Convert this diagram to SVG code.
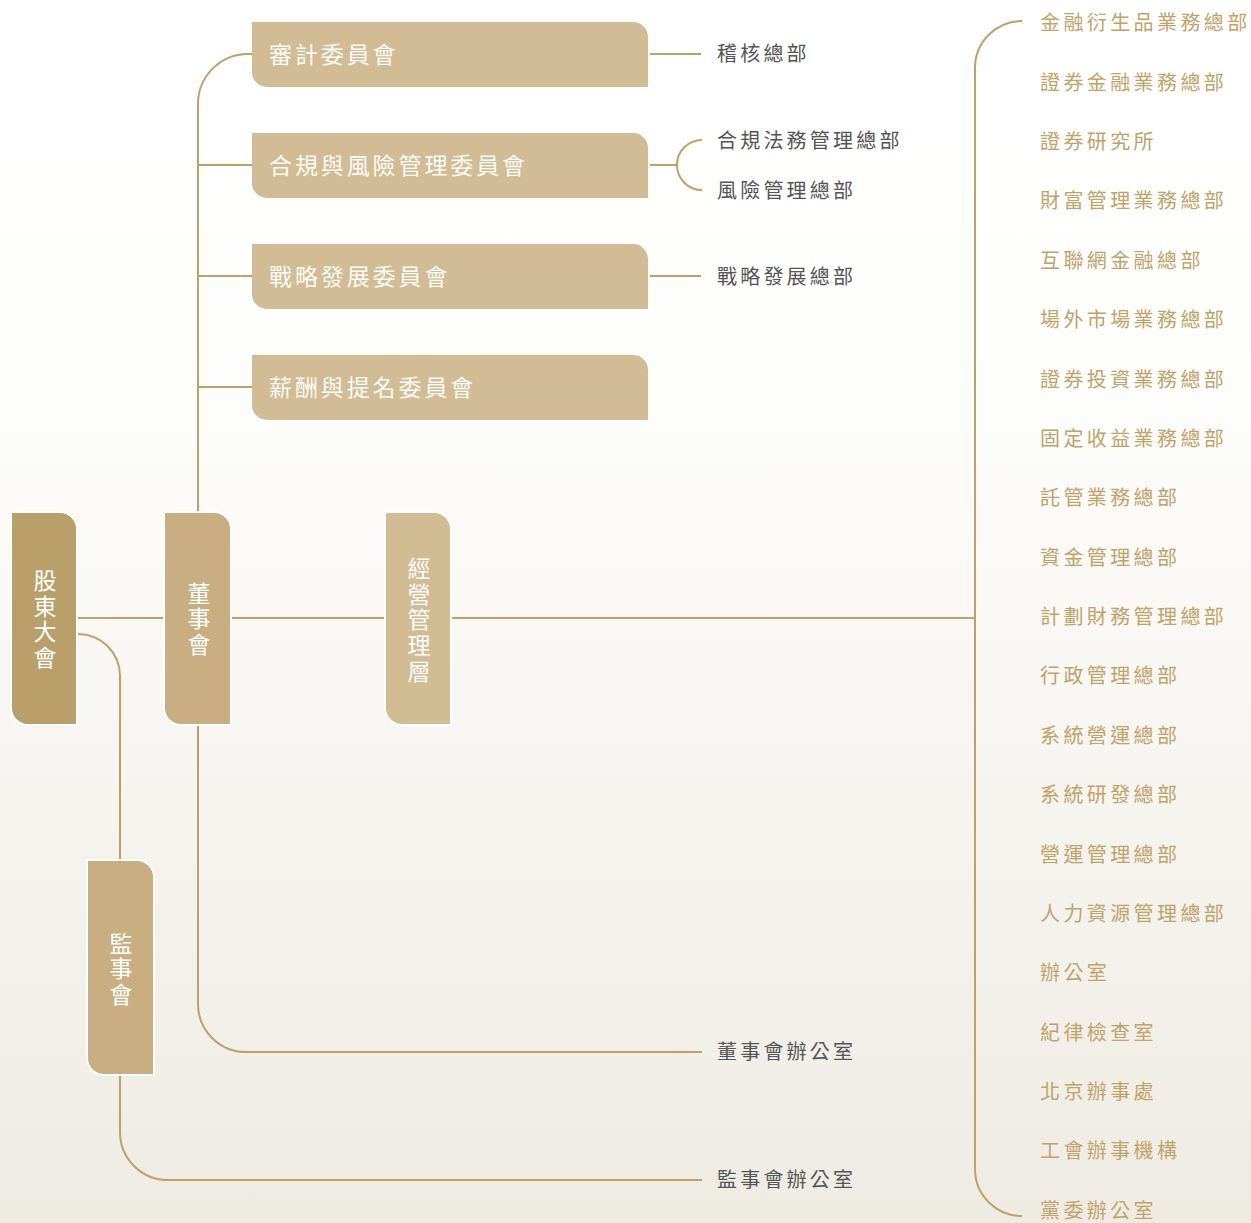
<svg xmlns="http://www.w3.org/2000/svg" width="1251" height="1223" viewBox="0 0 1251 1223">
<defs>
<linearGradient id="bg" x1="0" y1="0" x2="0" y2="1">
<stop offset="0" stop-color="#ffffff"/>
<stop offset="0.28" stop-color="#fefefd"/>
<stop offset="1" stop-color="#eeebe3"/>
</linearGradient>
<style>
.ln{fill:none;stroke:#bfa068;stroke-width:2}
.nd{stroke:#ffffff;stroke-width:2}
.vt{font-family:"Noto Sans CJK TC","Noto Sans CJK SC",sans-serif;font-size:23px;fill:#ffffff;text-anchor:middle;writing-mode:vertical-rl;letter-spacing:2.6px}
.ct{font-family:"Noto Sans CJK TC","Noto Sans CJK SC",sans-serif;font-size:23px;fill:#fdfbf6;letter-spacing:2.9px;dominant-baseline:central}
.gt{font-family:"Noto Sans CJK TC","Noto Sans CJK SC",sans-serif;font-size:20px;fill:#555555;letter-spacing:3.2px;dominant-baseline:central}
.rt{font-family:"Noto Sans CJK TC","Noto Sans CJK SC",sans-serif;font-size:20px;fill:#c1a36a;letter-spacing:3.4px;dominant-baseline:central}
</style>
</defs>
<rect x="0" y="0" width="1251" height="1223" fill="url(#bg)"/>

<g id="connectors">
<path class="ln" d="M77 618 H164"/>
<path class="ln" d="M231 618 H385"/>
<path class="ln" d="M451 618 H975"/>
<path class="ln" d="M198 512 V104 A50 50 0 0 1 248 54 H252"/>
<path class="ln" d="M198 165 H252"/>
<path class="ln" d="M198 276 H252"/>
<path class="ln" d="M198 387 H252"/>
<path class="ln" d="M650 54 H701"/>
<path class="ln" d="M650 276 H701"/>
<path class="ln" d="M650 165 H677"/>
<path class="ln" d="M702 140 A25 25 0 0 0 702 190"/>
<path class="ln" d="M198 725 V1004 A48 48 0 0 0 246 1052 H702"/>
<path class="ln" d="M78 634 A42 42 0 0 1 120 676 V860"/>
<path class="ln" d="M120 1075 V1132 A48 48 0 0 0 168 1180 H702"/>
<path class="ln" d="M1022 21 A47 47 0 0 0 975 68 V1169 A47 47 0 0 0 1022 1216"/>
</g>

<g id="n-gudong">
<path class="nd" fill="#b99f69" d="M11 512 H60 A17 17 0 0 1 77 529 V725 H28 A17 17 0 0 1 11 708 Z"/>
<text class="vt" x="45" y="620">股東大會</text>
</g>
<g id="n-dongshi">
<path class="nd" fill="#c8ae80" d="M164 512 H214 A17 17 0 0 1 231 529 V725 H181 A17 17 0 0 1 164 708 Z"/>
<text class="vt" x="199" y="620">董事會</text>
</g>
<g id="n-jingying">
<path class="nd" fill="#d1bc94" d="M385 512 H434 A17 17 0 0 1 451 529 V725 H402 A17 17 0 0 1 385 708 Z"/>
<text class="vt" x="419" y="621">經營管理層</text>
</g>
<g id="n-jianshi">
<path class="nd" fill="#c8ae80" d="M87 860 H137 A17 17 0 0 1 154 877 V1075 H104 A17 17 0 0 1 87 1058 Z"/>
<text class="vt" x="121" y="970">監事會</text>
</g>

<g id="n-shenji">
<path fill="#d1bc95" d="M252 22 H633 A15 15 0 0 1 648 37 V87 H267 A15 15 0 0 1 252 72 Z"/>
<text class="ct" x="269" y="52.5">審計委員會</text>
</g>
<g id="n-hegui">
<path fill="#d1bc95" d="M252 133 H633 A15 15 0 0 1 648 148 V198 H267 A15 15 0 0 1 252 183 Z"/>
<text class="ct" x="269" y="163.5">合規與風險管理委員會</text>
</g>
<g id="n-zhanlue">
<path fill="#d1bc95" d="M252 244 H633 A15 15 0 0 1 648 259 V309 H267 A15 15 0 0 1 252 294 Z"/>
<text class="ct" x="269" y="274.5">戰略發展委員會</text>
</g>
<g id="n-xinchou">
<path fill="#d1bc95" d="M252 355 H633 A15 15 0 0 1 648 370 V420 H267 A15 15 0 0 1 252 405 Z"/>
<text class="ct" x="269" y="385.5">薪酬與提名委員會</text>
</g>

<g id="n-gray">
<text class="gt" x="717" y="52">稽核總部</text>
<text class="gt" x="717" y="139">合規法務管理總部</text>
<text class="gt" x="717" y="189">風險管理總部</text>
<text class="gt" x="717" y="275">戰略發展總部</text>
<text class="gt" x="717" y="1050">董事會辦公室</text>
<text class="gt" x="717" y="1178">監事會辦公室</text>
</g>

<g id="n-depts">
<text class="rt" x="1040" y="21.5">金融衍生品業務總部</text>
<text class="rt" x="1040" y="81.5">證券金融業務總部</text>
<text class="rt" x="1040" y="140.5">證券研究所</text>
<text class="rt" x="1040" y="199.5">財富管理業務總部</text>
<text class="rt" x="1040" y="259.5">互聯網金融總部</text>
<text class="rt" x="1040" y="318.5">場外市場業務總部</text>
<text class="rt" x="1040" y="378.5">證券投資業務總部</text>
<text class="rt" x="1040" y="437.5">固定收益業務總部</text>
<text class="rt" x="1040" y="496.5">託管業務總部</text>
<text class="rt" x="1040" y="556.5">資金管理總部</text>
<text class="rt" x="1040" y="615.5">計劃財務管理總部</text>
<text class="rt" x="1040" y="674.5">行政管理總部</text>
<text class="rt" x="1040" y="734.5">系統營運總部</text>
<text class="rt" x="1040" y="793.5">系統研發總部</text>
<text class="rt" x="1040" y="853.5">營運管理總部</text>
<text class="rt" x="1040" y="912.5">人力資源管理總部</text>
<text class="rt" x="1040" y="971.5">辦公室</text>
<text class="rt" x="1040" y="1031.5">紀律檢查室</text>
<text class="rt" x="1040" y="1090.5">北京辦事處</text>
<text class="rt" x="1040" y="1149.5">工會辦事機構</text>
<text class="rt" x="1040" y="1209.5">黨委辦公室</text>
</g>
</svg>
